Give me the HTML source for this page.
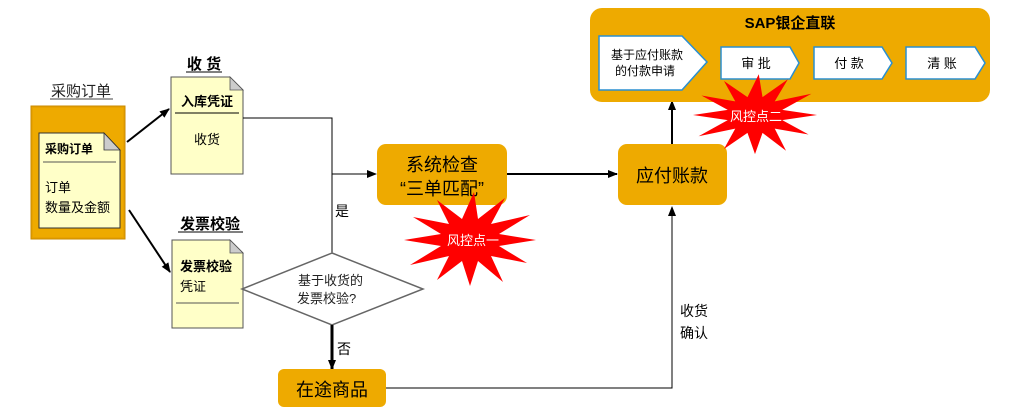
<!DOCTYPE html>
<html><head><meta charset="utf-8"><style>
html,body{margin:0;padding:0;background:#fff;width:1024px;height:416px;overflow:hidden}
svg text{font-family:"Liberation Sans","Noto Sans CJK SC",sans-serif}
</style></head><body>
<svg width="1024" height="416" viewBox="0 0 1024 416" xmlns="http://www.w3.org/2000/svg">
<defs>
<marker id="ah" markerWidth="10" markerHeight="8" refX="9" refY="4" orient="auto" markerUnits="userSpaceOnUse">
<path d="M0,0 L10,4 L0,8 Z" fill="#000"/></marker>
<polygon id="star" points="536,240 499,246 527,263 491,256 503,282 478,261 470,286 462,261 437,280 449,256 410,265 441,246 404,240 441,234 413,217 449,224 437,200 462,219 474,192 478,219 505,198 491,224 530,215 499,234"/>
</defs>

<!-- 采购订单 -->
<text x="81" y="96" font-size="15" text-anchor="middle" fill="#222">采购订单</text>
<line x1="50" y1="99" x2="113" y2="99" stroke="#444" stroke-width="1"/>
<rect x="31" y="106" width="94" height="133" fill="#e8a200" stroke="#c98a00"/>
<rect x="33" y="108" width="90" height="129" fill="#eeaa00"/>
<path d="M39,133 L104,133 L120,150 L120,228 L39,228 Z" fill="#ffffc8" stroke="#333" stroke-width="1"/>
<path d="M104,133 L120,150 L104,150 Z" fill="#ccc" stroke="#333" stroke-width="0.8"/>
<text x="45" y="153" font-size="12" font-weight="bold">采购订单</text>
<line x1="43" y1="162" x2="116" y2="162" stroke="#555"/>
<text x="45" y="192" font-size="13">订单</text>
<text x="45" y="212" font-size="13">数量及金额</text>

<!-- arrows from PO -->
<line x1="127" y1="142" x2="169" y2="109" stroke="#000" stroke-width="2" marker-end="url(#ah)"/>
<line x1="129" y1="210" x2="170" y2="272" stroke="#000" stroke-width="2" marker-end="url(#ah)"/>

<!-- 收货 -->
<text x="204" y="69" font-size="15" font-weight="bold" text-anchor="middle">收 货</text>
<line x1="186" y1="72" x2="222" y2="72" stroke="#000"/>
<path d="M171,77 L230,77 L243,90 L243,174 L171,174 Z" fill="#ffffc8" stroke="#555"/>
<path d="M230,77 L243,90 L230,90 Z" fill="#ccc" stroke="#555" stroke-width="0.8"/>
<text x="207" y="106" font-size="13" font-weight="bold" text-anchor="middle">入库凭证</text>
<line x1="175" y1="113" x2="239" y2="113" stroke="#000"/>
<text x="207" y="144" font-size="13" text-anchor="middle">收货</text>

<!-- 发票校验 -->
<text x="210" y="229" font-size="15" font-weight="bold" text-anchor="middle">发票校验</text>
<line x1="178" y1="232" x2="243" y2="232" stroke="#000"/>
<path d="M172,240 L230,240 L243,253 L243,328 L172,328 Z" fill="#ffffc8" stroke="#555"/>
<path d="M230,240 L243,253 L230,253 Z" fill="#ccc" stroke="#555" stroke-width="0.8"/>
<text x="180" y="271" font-size="13" font-weight="bold">发票校验</text>
<text x="180" y="291" font-size="13">凭证</text>
<line x1="176" y1="303" x2="239" y2="303" stroke="#555"/>

<!-- connectors -->
<polyline points="243,118 332,118 332,253" fill="none" stroke="#000" stroke-width="1"/>
<line x1="332" y1="174" x2="376" y2="174" stroke="#000" stroke-width="1" marker-end="url(#ah)"/>
<text x="335" y="216" font-size="14">是</text>
<polygon points="332,253 423,289 332,325 242,289" fill="#fff" stroke="#666" stroke-width="1.5"/>
<text x="298" y="285" font-size="13" fill="#222">基于收货的</text>
<text x="297" y="303" font-size="13" fill="#222">发票校验?</text>
<line x1="332" y1="325" x2="332" y2="369" stroke="#000" stroke-width="3" marker-end="url(#ah)"/>
<text x="337" y="354" font-size="14">否</text>

<rect x="377" y="144" width="130" height="61" rx="9" fill="#eeaa00"/>
<text x="442" y="171" font-size="18" text-anchor="middle">系统检查</text>
<text x="442" y="195" font-size="18" text-anchor="middle">“三单匹配”</text>
<line x1="507" y1="174" x2="617" y2="174" stroke="#000" stroke-width="2" marker-end="url(#ah)"/>

<rect x="618" y="144" width="109" height="61" rx="9" fill="#eeaa00"/>
<text x="672" y="182" font-size="18" text-anchor="middle">应付账款</text>

<rect x="278" y="369" width="108" height="38" rx="6" fill="#eeaa00"/>
<text x="332" y="396" font-size="18" text-anchor="middle">在途商品</text>
<polyline points="386,388 672,388 672,207" fill="none" stroke="#000" stroke-width="1" marker-end="url(#ah)"/>
<text x="680" y="316" font-size="14">收货</text>
<text x="680" y="338" font-size="14">确认</text>
<line x1="672" y1="144" x2="672" y2="101" stroke="#000" stroke-width="2" marker-end="url(#ah)"/>

<!-- SAP -->
<rect x="590" y="8" width="400" height="94" rx="12" fill="#eeaa00"/>
<text x="790" y="28" font-size="15" font-weight="bold" text-anchor="middle">SAP银企直联</text>
<path d="M599,36 L682,36 L707,62 L682,90 L599,90 Z" fill="#fff" stroke="#2a8fd0" stroke-width="1.5"/>
<text x="647" y="59" font-size="12" text-anchor="middle">基于应付账款</text>
<text x="645" y="75" font-size="12" text-anchor="middle">的付款申请</text>
<path d="M721,47 L790,47 L799,63 L790,79 L721,79 Z" fill="#fff" stroke="#2a8fd0" stroke-width="1.5"/>
<text x="756" y="68" font-size="13" text-anchor="middle">审 批</text>
<path d="M814,47 L882,47 L892,63 L882,79 L814,79 Z" fill="#fff" stroke="#2a8fd0" stroke-width="1.5"/>
<text x="849" y="68" font-size="13" text-anchor="middle">付 款</text>
<path d="M906,47 L975,47 L985,63 L975,79 L906,79 Z" fill="#fff" stroke="#2a8fd0" stroke-width="1.5"/>
<text x="942" y="68" font-size="13" text-anchor="middle">清 账</text>

<!-- stars -->
<use href="#star" fill="#ff0000"/>
<text x="473" y="245" font-size="13" fill="#fff" text-anchor="middle">风控点一</text>
<g transform="translate(755,115) scale(0.94,0.85) translate(-470,-240)"><use href="#star" fill="#ff0000"/></g>
<text x="756" y="121" font-size="13" fill="#fff" text-anchor="middle">风控点二</text>
</svg>
</body></html>
